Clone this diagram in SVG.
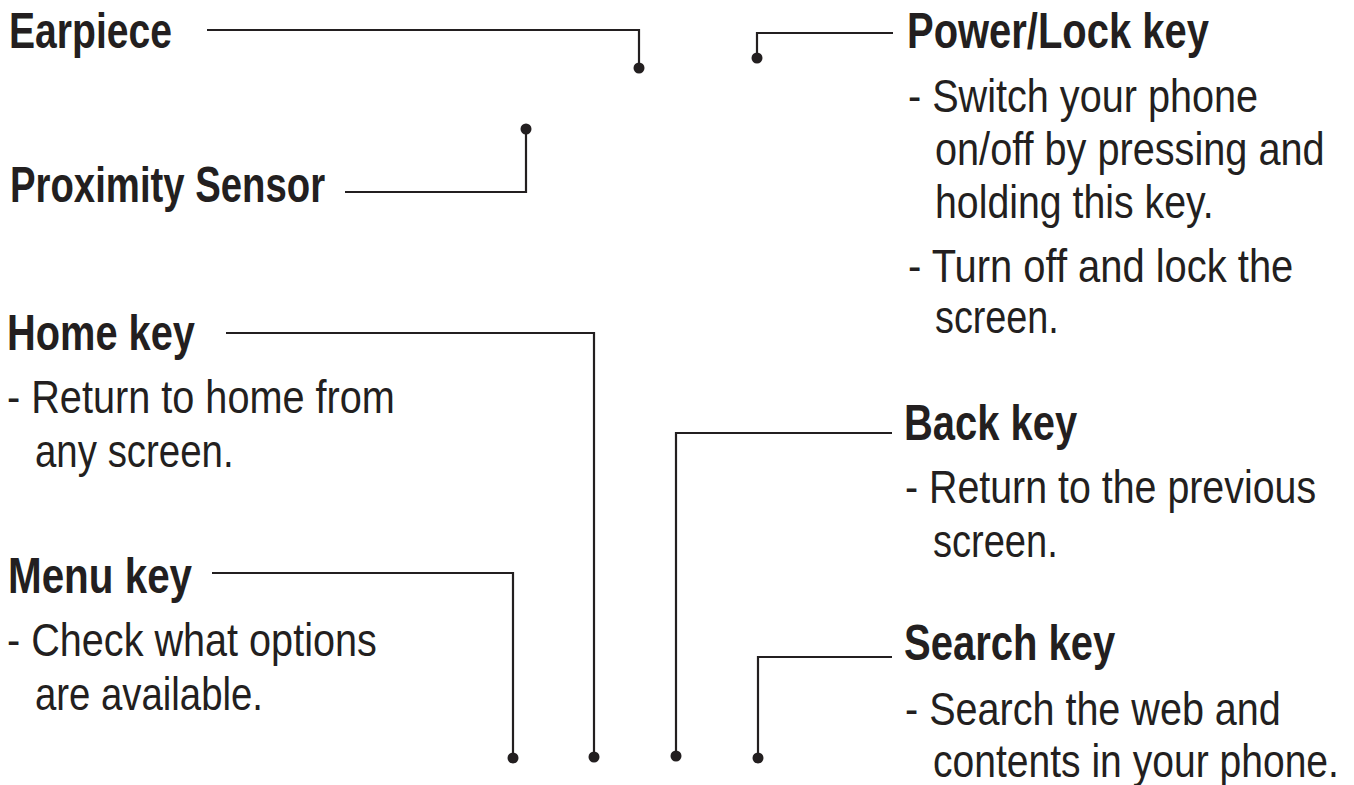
<svg xmlns="http://www.w3.org/2000/svg" width="1354" height="785" viewBox="0 0 1354 785">
<style>
.h{font-family:"Liberation Sans",Arial,sans-serif;font-weight:bold;font-size:50px;fill:#231f20}
.b{font-family:"Liberation Sans",Arial,sans-serif;font-size:46px;fill:#231f20}
.ln{fill:none;stroke:#231f20;stroke-width:2.2}
.dot{fill:#231f20}
</style>
<rect width="1354" height="785" fill="#ffffff"/>
<g id="connectors">
<path class="ln" d="M207,30 H639 V68"/><circle class="dot" cx="639" cy="68" r="5.5"/>
<path class="ln" d="M893,33 H757 V58"/><circle class="dot" cx="757" cy="58" r="5.5"/>
<path class="ln" d="M345,192 H526 V129"/><circle class="dot" cx="526" cy="129" r="5.5"/>
<path class="ln" d="M226,333 H594 V757"/><circle class="dot" cx="594" cy="757" r="5.5"/>
<path class="ln" d="M212,573 H513 V758"/><circle class="dot" cx="513" cy="758" r="5.5"/>
<path class="ln" d="M892,433 H676 V756"/><circle class="dot" cx="676" cy="756" r="5.5"/>
<path class="ln" d="M892,657 H758 V758"/><circle class="dot" cx="758" cy="758" r="5.5"/>
</g>
<g id="earpiece">
<text class="h" transform="translate(9,48) scale(0.78,1)" textLength="209" lengthAdjust="spacingAndGlyphs">Earpiece</text>
</g>
<g id="proximity">
<text class="h" transform="translate(10,202) scale(0.78,1)" textLength="404" lengthAdjust="spacingAndGlyphs">Proximity Sensor</text>
</g>
<g id="home">
<text class="h" transform="translate(7,350) scale(0.78,1)" textLength="241" lengthAdjust="spacingAndGlyphs">Home key</text>
<text class="b" transform="translate(7,413) scale(0.86,1)" textLength="451" lengthAdjust="spacingAndGlyphs">- Return to home from</text>
<text class="b" transform="translate(35,467) scale(0.86,1)" textLength="231" lengthAdjust="spacingAndGlyphs">any screen.</text>
</g>
<g id="menu">
<text class="h" transform="translate(8,593) scale(0.78,1)" textLength="236" lengthAdjust="spacingAndGlyphs">Menu key</text>
<text class="b" transform="translate(7,656) scale(0.86,1)" textLength="430" lengthAdjust="spacingAndGlyphs">- Check what options</text>
<text class="b" transform="translate(35,710) scale(0.86,1)" textLength="265" lengthAdjust="spacingAndGlyphs">are available.</text>
</g>
<g id="power">
<text class="h" transform="translate(907,48) scale(0.78,1)" textLength="387" lengthAdjust="spacingAndGlyphs">Power/Lock key</text>
<text class="b" transform="translate(908,112) scale(0.86,1)" textLength="407" lengthAdjust="spacingAndGlyphs">- Switch your phone</text>
<text class="b" transform="translate(935,165) scale(0.86,1)" textLength="453" lengthAdjust="spacingAndGlyphs">on/off by pressing and</text>
<text class="b" transform="translate(935,218) scale(0.86,1)" textLength="324" lengthAdjust="spacingAndGlyphs">holding this key.</text>
<text class="b" transform="translate(908,282) scale(0.86,1)" textLength="448" lengthAdjust="spacingAndGlyphs">- Turn off and lock the</text>
<text class="b" transform="translate(935,333) scale(0.86,1)" textLength="144" lengthAdjust="spacingAndGlyphs">screen.</text>
</g>
<g id="back">
<text class="h" transform="translate(904,440) scale(0.78,1)" textLength="222" lengthAdjust="spacingAndGlyphs">Back key</text>
<text class="b" transform="translate(905,503) scale(0.86,1)" textLength="478" lengthAdjust="spacingAndGlyphs">- Return to the previous</text>
<text class="b" transform="translate(933,557) scale(0.86,1)" textLength="145" lengthAdjust="spacingAndGlyphs">screen.</text>
</g>
<g id="search">
<text class="h" transform="translate(904,660) scale(0.78,1)" textLength="271" lengthAdjust="spacingAndGlyphs">Search key</text>
<text class="b" transform="translate(905,725) scale(0.86,1)" textLength="437" lengthAdjust="spacingAndGlyphs">- Search the web and</text>
<text class="b" transform="translate(933,777) scale(0.86,1)" textLength="472" lengthAdjust="spacingAndGlyphs">contents in your phone.</text>
</g>
</svg>
